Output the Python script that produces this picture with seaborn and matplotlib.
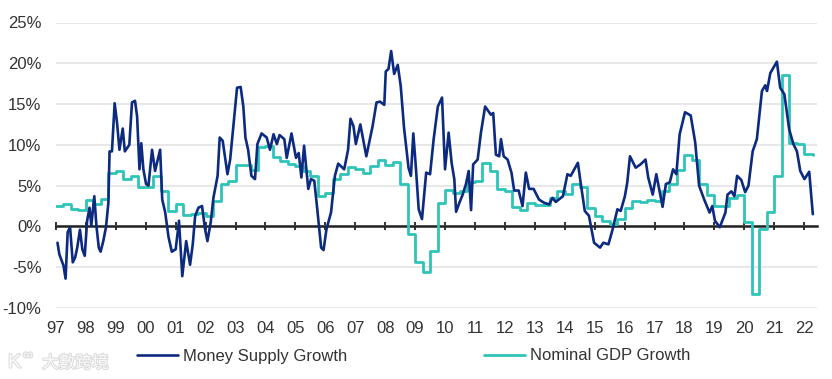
import matplotlib
matplotlib.use('Agg')
import matplotlib.pyplot as plt
import matplotlib.patheffects as pe
import seaborn as sns

tick_years = list(range(1997, 2023))
tick_labels = ['97', '98', '99', '00', '01', '02', '03', '04', '05', '06', '07', '08', '09',
               '10', '11', '12', '13', '14', '15', '16', '17', '18', '19', '20', '21', '22']
pct_ticks = [-10, -5, 0, 5, 10, 15, 20, 25]

# Money supply growth (year, %)
ms_years = [1997.05, 1997.11, 1997.19, 1997.25, 1997.32, 1997.39, 1997.47, 1997.56, 1997.64, 1997.71,
            1997.80, 1997.88, 1997.96, 1998.04, 1998.12, 1998.18, 1998.28, 1998.35, 1998.43, 1998.49,
            1998.58, 1998.67, 1998.75, 1998.79, 1998.87, 1998.96, 1999.04, 1999.12, 1999.23, 1999.30,
            1999.45, 1999.54, 1999.64, 1999.71, 1999.79, 1999.85, 1999.92, 2000.01, 2000.09, 2000.21,
            2000.31, 2000.48, 2000.55, 2000.65, 2000.76, 2000.87, 2001.00, 2001.11, 2001.22, 2001.35,
            2001.48, 2001.57, 2001.65, 2001.76, 2001.88, 2001.98, 2002.06, 2002.17, 2002.26, 2002.40,
            2002.47, 2002.57, 2002.73, 2002.82, 2003.05, 2003.17, 2003.26, 2003.33, 2003.42, 2003.53,
            2003.65, 2003.73, 2003.87, 2004.04, 2004.15, 2004.27, 2004.38, 2004.47, 2004.63, 2004.71,
            2004.87, 2005.02, 2005.11, 2005.20, 2005.29, 2005.43, 2005.52, 2005.63, 2005.72, 2005.86,
            2005.94, 2006.04, 2006.19, 2006.32, 2006.43, 2006.63, 2006.76, 2006.84, 2006.94, 2007.02,
            2007.17, 2007.37, 2007.58, 2007.71, 2007.83, 2007.97, 2008.02, 2008.11, 2008.20, 2008.30,
            2008.42, 2008.52, 2008.63, 2008.78, 2008.86, 2008.94, 2009.03, 2009.12, 2009.23, 2009.37,
            2009.50, 2009.62, 2009.76, 2009.90, 2010.00, 2010.12, 2010.22, 2010.31, 2010.37, 2010.48,
            2010.59, 2010.70, 2010.79, 2010.87, 2010.94, 2011.09, 2011.20, 2011.34, 2011.53, 2011.61,
            2011.70, 2011.81, 2011.87, 2011.96, 2012.09, 2012.22, 2012.31, 2012.46, 2012.59, 2012.70,
            2012.81, 2012.96, 2013.14, 2013.31, 2013.48, 2013.59, 2013.70, 2013.94, 2014.09, 2014.20,
            2014.44, 2014.53, 2014.67, 2014.81, 2014.98, 2015.18, 2015.29, 2015.46, 2015.59, 2015.76,
            2015.87, 2016.01, 2016.09, 2016.18, 2016.37, 2016.53, 2016.70, 2016.79, 2016.94, 2017.06,
            2017.27, 2017.38, 2017.51, 2017.62, 2017.73, 2017.84, 2018.02, 2018.21, 2018.36, 2018.49,
            2018.66, 2018.84, 2018.93, 2019.02, 2019.18, 2019.37, 2019.44, 2019.57, 2019.67, 2019.76,
            2019.90, 2020.03, 2020.14, 2020.28, 2020.42, 2020.59, 2020.70, 2020.76, 2020.87, 2021.09,
            2021.20, 2021.34, 2021.50, 2021.64, 2021.76, 2021.87, 2022.01, 2022.17, 2022.29]
ms_values = [-2.0, -3.4, -4.2, -4.8, -6.4, -0.7, -0.1, -4.4, -3.8, -2.6,
             -0.4, -2.8, -3.6, 0.7, 2.3, 0.1, 3.7, 0.1, -2.6, -3.1,
             -1.8, -0.1, 2.9, 9.2, 9.2, 15.1, 12.7, 9.4, 12.0, 9.2,
             10.0, 15.2, 15.4, 13.5, 7.0, 10.2, 7.0, 5.2, 5.0, 9.4,
             6.8, 9.4, 3.3, 1.7, -1.3, -3.1, -2.8, 0.7, -6.1, -1.8,
             -4.7, -2.2, 1.3, 2.3, 2.5, -0.3, -1.8, 0.5, 3.5, 6.2,
             10.9, 10.5, 6.4, 8.2, 17.0, 17.1, 14.7, 10.9, 9.4, 6.2,
             5.8, 10.1, 11.4, 10.9, 9.4, 11.3, 10.1, 11.2, 10.7, 8.4,
             11.4, 8.4, 9.0, 6.0, 9.9, 4.6, 5.8, 5.6, 2.5, -2.6,
             -2.9, -0.3, 1.7, 6.2, 7.7, 7.0, 9.4, 13.2, 12.3, 10.1,
             12.5, 8.6, 12.3, 15.2, 15.3, 14.9, 19.0, 19.3, 21.5, 18.7,
             19.8, 17.2, 12.1, 7.2, 6.2, 11.4, 7.0, 2.1, 0.9, 6.6,
             6.4, 10.7, 14.7, 15.8, 7.0, 11.5, 7.8, 5.8, 1.8, 2.9,
             3.9, 5.2, 6.8, 2.0, 7.6, 8.2, 11.5, 14.7, 13.7, 13.9,
             8.8, 8.6, 10.7, 8.6, 8.2, 6.6, 4.4, 4.4, 2.5, 6.6,
             4.6, 4.6, 3.3, 2.9, 2.7, 3.5, 3.0, 3.7, 6.4, 6.2,
             7.8, 5.4, 1.9, 1.3, -2.0, -2.6, -2.0, -2.2, -0.5, 2.1,
             1.9, 3.7, 5.4, 8.6, 7.2, 7.6, 8.2, 6.0, 3.9, 6.4,
             2.4, 5.2, 5.4, 7.0, 6.4, 11.3, 14.0, 13.6, 10.3, 5.0,
             3.3, 1.7, 2.5, 0.7, -0.1, 1.7, 3.9, 4.3, 3.7, 6.2,
             5.7, 4.2, 5.0, 9.2, 10.7, 16.6, 17.3, 16.6, 18.8, 20.2,
             17.0, 16.2, 11.9, 10.1, 9.2, 6.8, 5.8, 6.7, 1.5]

# Nominal GDP growth, one value per quarter from 1997 Q1, held until the next
gdp_years = [1997 + i * 0.25 for i in range(101)] + [2022.3]
gdp_values = [2.5, 2.7, 2.1, 2.0, 3.3, 2.8, 3.4, 6.5, 6.8, 5.8,
              6.2, 4.8, 4.8, 6.2, 4.4, 1.9, 2.7, 1.4, 1.5, 1.6,
              1.3, 3.1, 5.2, 5.6, 7.5, 7.5, 6.9, 9.7, 9.9, 8.5,
              8.0, 7.6, 7.4, 6.8, 6.2, 3.7, 4.1, 5.8, 6.4, 7.3,
              7.0, 6.6, 7.4, 8.1, 7.5, 7.9, 5.2, -0.9, -4.4, -5.6,
              -3.0, 2.9, 4.5, 4.1, 4.4, 5.5, 5.6, 7.8, 6.8, 4.6,
              4.4, 2.4, 2.0, 2.9, 2.6, 2.6, 3.5, 4.3, 4.0, 5.2,
              4.8, 2.3, 1.3, 0.7, 0.3, 0.9, 2.3, 3.1, 3.0, 3.3,
              3.1, 4.3, 5.2, 6.9, 8.7, 8.1, 5.2, 3.8, 2.5, 2.5,
              3.5, 3.9, 0.5, -8.3, -0.3, 1.8, 6.2, 18.6, 10.2, 10.1,
              8.9, 8.8]

sns.set_style('white')
plt.rcParams['font.family'] = ['Liberation Sans', 'Noto Sans CJK TC', 'DejaVu Sans']

fig, ax = plt.subplots(figsize=(8.32, 3.79), dpi=100)
fig.subplots_adjust(left=56 / 832, right=817 / 832, top=1 - 22.5 / 379, bottom=1 - 308 / 379)

sns.lineplot(x=gdp_years, y=gdp_values, ax=ax, color='#2fc4b8', linewidth=2.0,
             drawstyle='steps-post', label='Nominal GDP Growth', estimator=None, errorbar=None, zorder=3)
sns.lineplot(x=ms_years, y=ms_values, ax=ax, color='#0c2a80', linewidth=1.9,
             label='Money Supply Growth', estimator=None, errorbar=None, zorder=4)

ax.set_xlim(1997, 2022.43)
ax.set_ylim(-10, 25)
ax.set_yticks(pct_ticks)
ax.set_yticklabels([f'{p}%' for p in pct_ticks])
ax.set_xticks(tick_years)
ax.set_xticklabels(tick_labels)
ax.yaxis.grid(True, color='#e4e4e4', linewidth=1.2)
ax.set_axisbelow(True)
for side in ['top', 'left', 'right']:
    ax.spines[side].set_visible(False)
ax.spines['bottom'].set_position(('data', 0))
ax.spines['bottom'].set_color('#222222')
ax.spines['bottom'].set_linewidth(1.8)
ax.spines['bottom'].set_zorder(2.5)
ax.tick_params(axis='x', direction='inout', length=5.5, width=1.3, color='#222222',
               labelsize=12, labelcolor='#333333', bottom=True, pad=65)
ax.tick_params(axis='y', left=False, labelsize=12, labelcolor='#333333', pad=7)

handles, labels = ax.get_legend_handles_labels()
ax.legend(handles[::-1], labels[::-1], ncol=2, loc='center left', frameon=False,
          bbox_to_anchor=(81 / 761, 1 - 333.5 / 285.5), fontsize=12, handlelength=2.46,
          handletextpad=0.3, columnspacing=8.22, labelcolor='#333333', borderpad=0, borderaxespad=0)

# source watermark, bottom left corner
outline = [pe.withStroke(linewidth=1.5, foreground='#dcdcdc')]
fig.text(42 / 832, 1 - 363 / 379, '大數跨境', color='#fafafa', fontsize=12, va='center', ha='left',
         path_effects=outline)
fig.text(8 / 832, 1 - 363 / 379, 'K', color='#fafafa', fontsize=14, va='center', ha='left',
         path_effects=outline)
fig.text(23 / 832, 1 - 355 / 379, '∞', color='#fafafa', fontsize=10, va='center', ha='left',
         path_effects=outline)

fig.savefig('out.png', dpi=100)
